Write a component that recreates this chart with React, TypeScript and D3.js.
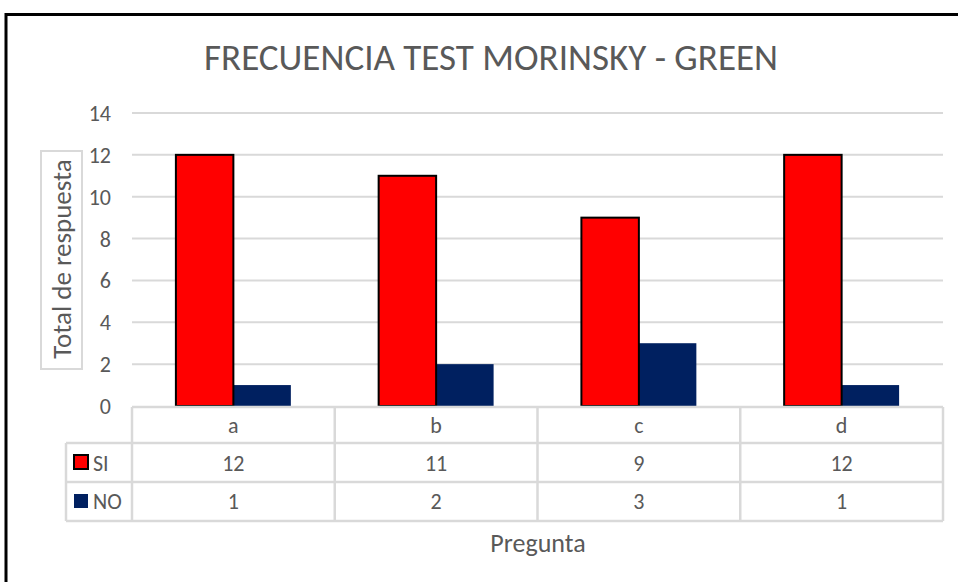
import React, { useEffect, useRef } from "react";
import * as d3 from "d3";

const categories = ["a", "b", "c", "d"];
const siValues = [12, 11, 9, 12];
const noValues = [1, 2, 3, 1];
const yTicks = [0, 2, 4, 6, 8, 10, 12, 14];
const seriesNames = ["SI", "NO"];

const FONT = "Carlito, 'Liberation Sans Narrow', 'Open Sans', sans-serif";
const TXT = "#595959";
const GRID = "#d9d9d9";

export default function App() {
  const ref = useRef<SVGSVGElement>(null);

  useEffect(() => {
    const svg = d3.select(ref.current);
    svg.selectAll("*").remove();
    const W = 958, H = 582;
    const left = 132, right = 943, top = 113, bottom = 406;

    // outer frame (runs off the right and bottom edges)
    svg.append("path")
      .attr("d", `M6,${H + 5}V14.5H${W + 5}`)
      .attr("fill", "none").attr("stroke", "#000").attr("stroke-width", 3);

    svg.append("text")
      .attr("x", 491).attr("y", 70)
      .attr("text-anchor", "middle")
      .attr("font-family", FONT).attr("font-size", 36)
      .attr("textLength", 574).attr("lengthAdjust", "spacingAndGlyphs")
      .attr("fill", TXT)
      .text("FRECUENCIA TEST MORINSKY - GREEN");

    const y = d3.scaleLinear().domain([0, 14]).range([bottom, top]);
    const x = d3.scaleBand().domain(categories).range([left, right]).paddingInner(0.433).paddingOuter(0.2165);
    const xs = d3.scaleBand().domain(seriesNames).range([0, x.bandwidth()]);
    const xCell = d3.scaleBand().domain(categories).range([left, right]);

    const g = svg.append("g");
    g.selectAll("line.grid").data(yTicks.filter(d => d > 0)).enter().append("line")
      .attr("x1", left).attr("x2", right)
      .attr("y1", d => y(d)).attr("y2", d => y(d))
      .attr("stroke", GRID).attr("stroke-width", 2);

    g.selectAll("text.ytick").data(yTicks).enter().append("text")
      .attr("x", 111).attr("y", d => y(d) + 8)
      .attr("text-anchor", "end")
      .attr("font-family", FONT).attr("font-size", 22).attr("fill", TXT)
      .text(d => d);

    // axis title box
    g.append("rect").attr("x", 41).attr("y", 151).attr("width", 41).attr("height", 218)
      .attr("fill", "none").attr("stroke", GRID).attr("stroke-width", 2);
    g.append("text")
      .attr("transform", "translate(71,259) rotate(-90)")
      .attr("text-anchor", "middle")
      .attr("font-family", FONT).attr("font-size", 27).attr("fill", TXT)
      .text("Total de respuesta");

    const data = categories.map((c, i) => ({ c, SI: siValues[i], NO: noValues[i] }));
    const colors: Record<string, string> = { SI: "#ff0000", NO: "#002060" };

    g.selectAll("rect.bar-no").data(data).enter().append("rect")
      .attr("x", d => (x(d.c) as number) + (xs("NO") as number))
      .attr("y", d => y(d.NO))
      .attr("width", xs.bandwidth())
      .attr("height", d => y(0) - y(d.NO))
      .attr("fill", colors.NO);
    g.selectAll("rect.bar-si").data(data).enter().append("rect")
      .attr("x", d => (x(d.c) as number) + (xs("SI") as number))
      .attr("y", d => y(d.SI))
      .attr("width", xs.bandwidth())
      .attr("height", d => y(0) - y(d.SI))
      .attr("fill", colors.SI).attr("stroke", "#000").attr("stroke-width", 2);

    // data table
    const rowY = [407, 443, 482, 521];
    const tableLeft = 66;
    const tg = svg.append("g").attr("stroke", GRID).attr("stroke-width", 2.5).attr("fill", "none");
    tg.append("line").attr("x1", left).attr("x2", right).attr("y1", rowY[0]).attr("y2", rowY[0]);
    [1, 2, 3].forEach(i => {
      tg.append("line").attr("x1", tableLeft).attr("x2", right).attr("y1", rowY[i]).attr("y2", rowY[i]);
    });
    tg.append("line").attr("x1", tableLeft).attr("x2", tableLeft).attr("y1", rowY[1]).attr("y2", rowY[3]);
    [...categories.map(c => xCell(c) as number), right].forEach(xx => {
      tg.append("line").attr("x1", xx).attr("x2", xx).attr("y1", rowY[0]).attr("y2", rowY[3]);
    });

    const cellText = (xx: number, yy: number, t: string | number, anchor = "middle") =>
      svg.append("text").attr("x", xx).attr("y", yy)
        .attr("text-anchor", anchor)
        .attr("font-family", FONT).attr("font-size", 22).attr("fill", TXT)
        .text(t);

    categories.forEach((c, i) => {
      const cx = (xCell(c) as number) + xCell.bandwidth() / 2;
      cellText(cx, 433, c);
      cellText(cx, 471, siValues[i]);
      cellText(cx, 509, noValues[i]);
    });

    // legend keys
    svg.append("rect").attr("x", 74).attr("y", 455).attr("width", 14).attr("height", 14)
      .attr("fill", colors.SI).attr("stroke", "#000").attr("stroke-width", 2);
    cellText(93, 471, "SI", "start");
    svg.append("rect").attr("x", 74).attr("y", 494).attr("width", 14).attr("height", 14)
      .attr("fill", colors.NO);
    cellText(93, 509, "NO", "start");

    svg.append("text")
      .attr("x", 538).attr("y", 552)
      .attr("text-anchor", "middle")
      .attr("font-family", FONT).attr("font-size", 26).attr("fill", TXT)
      .text("Pregunta");
  }, []);

  return (
    <svg ref={ref} width={958} height={582}
      style={{ position: "absolute", left: 0, top: 0, background: "#fff" }} />
  );
}
